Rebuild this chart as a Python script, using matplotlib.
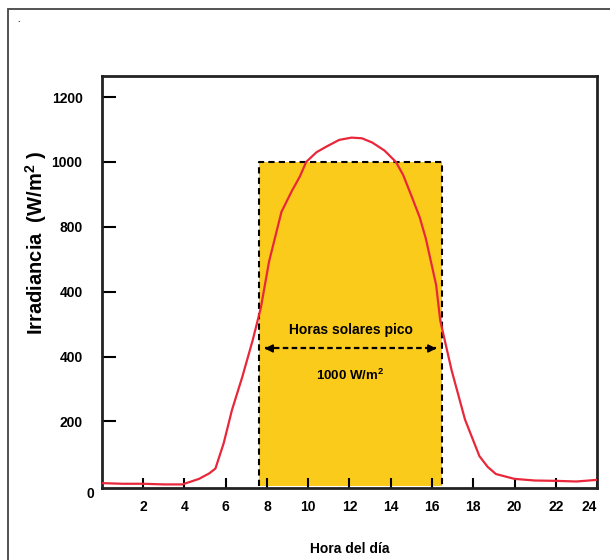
import matplotlib
matplotlib.use('Agg')
import matplotlib.pyplot as plt
from matplotlib.patches import Rectangle

plt.rcParams['font.family'] = ['Liberation Sans', 'DejaVu Sans']
plt.rcParams['font.weight'] = 'bold'
plt.rcParams['mathtext.fontset'] = 'custom'
plt.rcParams['mathtext.bf'] = 'Liberation Sans:bold'

# curva de irradiancia
horas = [0, 1, 2, 3, 3.9, 4.7, 5.2, 5.5, 5.9, 6.3, 6.8, 7.3, 7.7, 8.1, 8.7, 9.2,
         9.6, 9.9, 10.4, 10.9, 11.5, 12.1, 12.6, 13.1, 13.7, 14.25, 14.6, 15.0,
         15.4, 15.7, 16.2, 16.4, 16.95, 17.6, 18.3, 18.7, 19.1, 20.0, 21, 22, 23, 24]
irradiancia = [10, 8, 8, 6, 6, 23, 40, 55, 133, 235, 337, 449, 550, 693, 846, 910,
               956, 1000, 1030, 1048, 1068, 1075, 1073, 1060, 1035, 1000, 960, 896,
               830, 764, 621, 511, 358, 206, 93, 60, 38, 23, 18, 17, 15, 20]

# bloque de horas solares pico
hsp_inicio = 7.6
hsp_fin = 16.5
hsp_nivel = 1000

x_ticks = [2, 4, 6, 8, 10, 12, 14, 16, 18, 20, 22, 24]
y_ticks = [200, 400, 600, 800, 1000, 1200]
y_etiquetas = ['200', '400', '400', '800', '1000', '1200']  # tal cual en el original

fig = plt.figure(figsize=(6.1, 5.6), dpi=100)
ax = fig.add_axes([0.1672, 0.1286, 0.8115, 0.7357])

# marco exterior (solo se ve arriba e izquierda)
fig.add_artist(Rectangle((8 / 610, -0.1), 1.2, 1 - 9 / 560 + 0.1,
                         transform=fig.transFigure, fill=False,
                         edgecolor='#444444', linewidth=1.3))
fig.text(17 / 610, 1 - 22 / 560, '.', fontsize=7, color='#555555')

ax.add_patch(Rectangle((hsp_inicio, 0), hsp_fin - hsp_inicio, hsp_nivel,
                       facecolor='#FBCB1C', edgecolor='none', zorder=1))
ax.plot([hsp_inicio, hsp_inicio, hsp_fin, hsp_fin], [0, hsp_nivel, hsp_nivel, 0],
        color='black', linestyle=(0, (3, 2)), linewidth=1.5, zorder=2)

ax.plot(horas, irradiancia, color='#E8283A', linewidth=1.6, zorder=3)

# flecha discontinua
y_flecha = 425
ax.plot([hsp_inicio + 0.3, hsp_fin - 0.3], [y_flecha, y_flecha], color='black',
        linestyle=(0, (2.5, 1.5)), linewidth=1.6, zorder=4)
ax.annotate('', xy=(hsp_inicio + 0.15, y_flecha), xytext=(hsp_inicio + 0.6, y_flecha),
            arrowprops=dict(arrowstyle='-|>', color='black', lw=1.2, mutation_scale=12),
            zorder=4)
ax.annotate('', xy=(hsp_fin - 0.15, y_flecha), xytext=(hsp_fin - 0.6, y_flecha),
            arrowprops=dict(arrowstyle='-|>', color='black', lw=1.2, mutation_scale=12),
            zorder=4)
ax.text((hsp_inicio + hsp_fin) / 2, 483, 'Horas solares pico', ha='center', va='center',
        fontsize=10, fontweight='bold', zorder=5)
ax.text((hsp_inicio + hsp_fin) / 2, 342, r'1000 W/m$^{\mathbf{2}}$', ha='center',
        va='center', fontsize=9.5, fontweight='bold', zorder=5)

ax.set_xlim(0, 24)
ax.set_ylim(-5, 1265)

ax.set_xticks(x_ticks)
ax.set_xticklabels([str(t) for t in x_ticks])
ax.set_yticks(y_ticks)
ax.set_yticklabels(y_etiquetas)
ax.xaxis.get_ticklabels()[-1].set_horizontalalignment('right')
ax.tick_params(axis='x', direction='in', length=7, width=1.5, pad=9, labelsize=10)
ax.tick_params(axis='y', direction='in', length=10, width=1.5, pad=14, labelsize=10)
for t in ax.get_xticklabels() + ax.get_yticklabels():
    t.set_fontweight('bold')
ax.text(-0.58, -23, '0', ha='center', va='center', fontsize=10, fontweight='bold',
        clip_on=False)

for s in ax.spines.values():
    s.set_linewidth(2)
    s.set_color('#222222')

ax.set_xlabel('Hora del día', fontsize=10, fontweight='bold', labelpad=20)
ax.set_ylabel(r'Irradiancia  (W/m$^{\mathbf{2}}$ )', fontsize=14.5, fontweight='bold')
ax.yaxis.set_label_coords(-0.108, 0.595)

fig.savefig('out.png', dpi=100)
